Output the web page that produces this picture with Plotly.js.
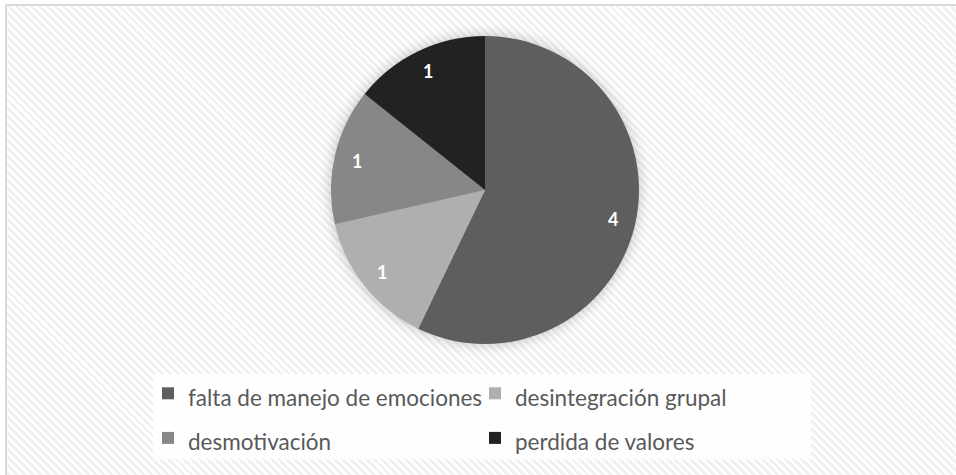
<!DOCTYPE html>
<html>
<head>
<meta charset="utf-8">
<script src="https://cdn.plot.ly/plotly-3.0.1.min.js"></script>
<style>
  html, body { margin: 0; padding: 0; background: #ffffff; }
  #wrap { position: relative; width: 956px; height: 475px; overflow: hidden; background: #fff; }
  #bg { position: absolute; left: 5px; top: 4px; width: 960px; height: 480px;
        border-left: 2px solid #d9d9d9; border-top: 2px solid #d9d9d9;
        background: repeating-linear-gradient(45deg, #ffffff 0px, #ffffff 2.8px, #f1f1f1 2.8px, #f1f1f1 5.6px); }
  #chart { position: absolute; left: 0; top: 0; width: 956px; height: 475px; }
  .pielayer .trace { filter: drop-shadow(0 0 7px rgba(0,0,0,0.25)); }
</style>
</head>
<body>
<div id="wrap">
  <div id="bg"></div>
  <div id="chart"></div>
</div>
<script>
const labels = ["falta de manejo de emociones", "desintegración grupal", "desmotivación", "perdida de valores"];
const values = [4, 1, 1, 1];
const colors = ["#5e5e5e", "#afafaf", "#878787", "#222222"];

const W = 956, H = 475;
const cx = 485, cy = 190, r = 154;
const labelRadius = 0.855;

const total = values.reduce((a, b) => a + b, 0);
let cum = 0;
const annotations = values.map(v => {
  const mid = (cum + v / 2) / total * 2 * Math.PI;
  cum += v;
  return {
    xref: "paper", yref: "paper",
    x: (cx + labelRadius * r * Math.sin(mid)) / W,
    y: 1 - (cy - labelRadius * r * Math.cos(mid)) / H,
    text: String(v), showarrow: false,
    xanchor: "center", yanchor: "middle",
    font: { color: "#ffffff", size: 18, family: "Lato, 'Open Sans', sans-serif", weight: "bold" }
  };
});

const trace = {
  type: "pie",
  labels: labels.map(l => '<span style="font-size:22.5px">' + l + '</span>'),
  values: values,
  sort: false,
  direction: "clockwise",
  rotation: 0,
  marker: { colors: colors, line: { width: 0 } },
  textinfo: "none",
  hoverinfo: "label+value",
  domain: { x: [(cx - r) / W, (cx + r) / W], y: [1 - (cy + r) / H, 1 - (cy - r) / H] }
};

const layout = {
  width: W, height: H,
  margin: { l: 0, r: 0, t: 0, b: 0 },
  paper_bgcolor: "rgba(0,0,0,0)",
  plot_bgcolor: "rgba(0,0,0,0)",
  showlegend: true,
  annotations: annotations,
  shapes: [{
    type: "rect", xref: "paper", yref: "paper", layer: "below",
    x0: 153 / W, x1: 811 / W, y0: 1 - 459 / H, y1: 1 - 374 / H,
    fillcolor: "rgba(255,255,255,0.85)", line: { width: 0 }
  }],
  legend: {
    orientation: "h",
    x: 148 / W, xanchor: "left",
    y: 1 - 366 / H, yanchor: "top",
    bgcolor: "rgba(0,0,0,0)",
    borderwidth: 0,
    entrywidth: 282,
    font: { family: "Lato, 'Open Sans', sans-serif", size: 32, color: "#595959" }
  }
};

Plotly.newPlot("chart", [trace], layout, { displayModeBar: false, staticPlot: true });
</script>
</body>
</html>
